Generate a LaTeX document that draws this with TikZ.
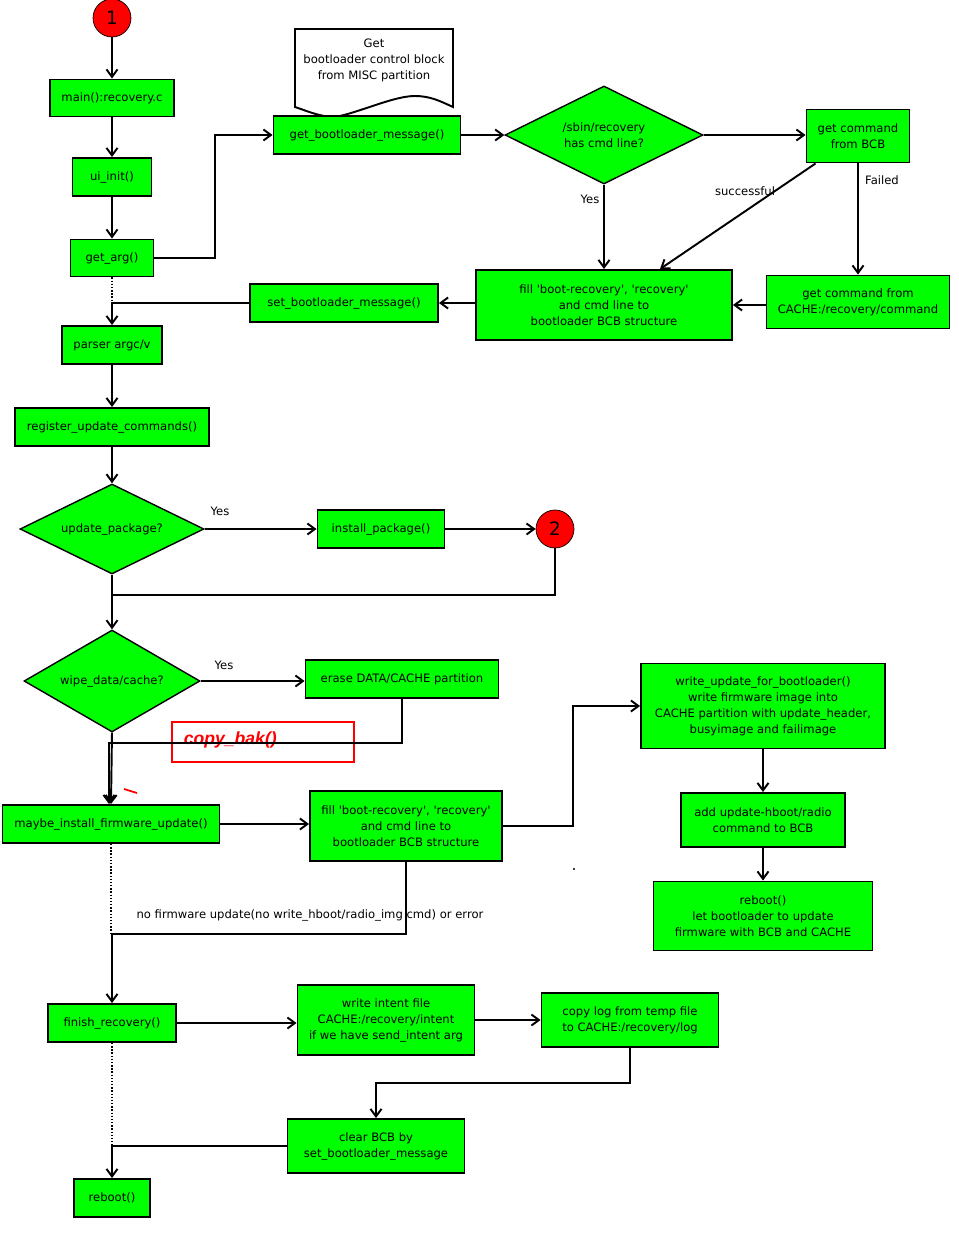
\documentclass[tikz,border=0pt]{standalone}
\usepackage{fontspec}
\setmainfont{DejaVu Sans}
\newfontfamily\arialfont{Liberation Sans}
\usetikzlibrary{shapes.geometric,arrows.meta}
\newcommand{\sq}{\textquotesingle}

\begin{document}
\begin{tikzpicture}[x=0.02cm,y=-0.02cm,line width=1.1pt,
		box/.style={draw,fill=green,align=center,inner sep=1pt,font=\fontsize{6.6}{9.1}\selectfont},
		dec/.style={diamond,aspect=2,draw,fill=green,align=center,inner sep=0pt,line width=0.8pt,font=\fontsize{6.6}{9.1}\selectfont},
		joint/.style={circle,draw,fill=red,inner sep=0pt,minimum size=0.76cm,line width=0.4pt,font=\fontsize{10.5}{12}\selectfont},
		txt/.style={inner sep=0pt,align=center,font=\fontsize{6.6}{9.1}\selectfont},
		arr/.style={-{Straight Barb[length=1.5mm,width=2.2mm]}},
		dots/.style={densely dotted,line width=0.8pt}]
	\useasboundingbox (0,0) rectangle (958,1238);

	\draw[fill=white] (295,107) -- (295,29) -- (453,29) -- (453,107) .. controls (440,101) and (430,96) .. (415,96) .. controls (395,96) and (365,110) .. (340,116) .. controls (325,119) and (310,112) .. (295,107) -- cycle;
	\node[txt] (note) at (374,60) {Get\\bootloader control block\\from MISC partition};

	\node[joint] (c1) at (112,18) {1};
	\node[box,minimum width=2.48cm,minimum height=0.74cm] (main) at (112,98) {main():recovery.c};
	\node[box,minimum width=1.58cm,minimum height=0.76cm] (uiinit) at (112,177) {ui\_init()};
	\node[box,minimum width=1.66cm,minimum height=0.74cm] (getarg) at (112,258) {get\_arg()};
	\node[box,minimum width=3.74cm,minimum height=0.76cm] (getbl) at (367,135) {get\_bootloader\_message()};
	\node[dec,minimum width=3.96cm,minimum height=1.96cm] (sbin) at (604,135) {/sbin/recovery\\has cmd line?};
	\node[box,minimum width=2.06cm,minimum height=1.06cm] (getbcb) at (858,136) {get command\\from BCB};
	\node[box,minimum width=5.12cm,minimum height=1.40cm] (fillbcb) at (604,305) {fill \sq boot-recovery\sq, \sq recovery\sq\\and cmd line to\\bootloader BCB structure};
	\node[box,minimum width=3.66cm,minimum height=1.06cm] (getcache) at (858,302) {get command from\\CACHE:/recovery/command};
	\node[box,minimum width=3.76cm,minimum height=0.76cm] (setbl) at (344,303) {set\_bootloader\_message()};
	\node[box,minimum width=2.00cm,minimum height=0.76cm] (parser) at (112,345) {parser argc/v};
	\node[box,minimum width=3.88cm,minimum height=0.76cm] (register) at (112,427) {register\_update\_commands()};
	\node[dec,minimum width=3.68cm,minimum height=1.80cm] (update) at (112,529) {update\_package?};
	\node[box,minimum width=2.54cm,minimum height=0.76cm] (install) at (381,529) {install\_package()};
	\node[joint] (c2) at (555,529) {2};
	\node[dec,minimum width=3.52cm,minimum height=2.04cm] (wipe) at (112,681) {wipe\_data/cache?};
	\node[box,minimum width=3.86cm,minimum height=0.76cm] (erase) at (402,679) {erase DATA/CACHE partition};
	\node[draw=red,line width=0.9pt,minimum width=3.64cm,minimum height=0.8cm] (bakbox) at (263,742) {};
	\node[anchor=west,inner sep=0pt,text=red,font=\arialfont\bfseries\itshape\fontsize{10}{12}\selectfont] (baktext) at (183,740) {copy\_bak()};
	\node[box,minimum width=4.34cm,minimum height=0.76cm] (maybe) at (111,824) {maybe\_install\_firmware\_update()};
	\node[box,minimum width=3.84cm,minimum height=1.40cm] (fillfw) at (406,826) {fill \sq boot-recovery\sq, \sq recovery\sq\\and cmd line to\\bootloader BCB structure};
	\node[box,minimum width=4.88cm,minimum height=1.70cm] (writeupd) at (763,706) {write\_update\_for\_bootloader()\\write firmware image into\\CACHE partition with update\_header,\\busyimage and failimage};
	\node[box,minimum width=3.28cm,minimum height=1.08cm] (addupd) at (763,820) {add update-hboot/radio\\command to BCB};
	\node[box,minimum width=4.38cm,minimum height=1.38cm] (rebootfw) at (763,916) {reboot()\\let bootloader to update\\firmware with BCB and CACHE};
	\node[box,minimum width=2.56cm,minimum height=0.76cm] (finish) at (112,1023) {finish\_recovery()};
	\node[box,minimum width=3.54cm,minimum height=1.40cm] (intent) at (386,1020) {write intent file\\CACHE:/recovery/intent\\if we have send\_intent arg};
	\node[box,minimum width=3.54cm,minimum height=1.08cm] (copylog) at (630,1020) {copy log from temp file\\to CACHE:/recovery/log};
	\node[box,minimum width=3.54cm,minimum height=1.08cm] (clearbcb) at (376,1146) {clear BCB by\\set\_bootloader\_message};
	\node[box,minimum width=1.52cm,minimum height=0.76cm] (reboot) at (112,1198) {reboot()};

	\node[txt] (yes1) at (590,199) {Yes};
	\node[txt] (succ) at (745,191) {successful};
	\node[txt] (fail) at (882,180) {Failed};
	\node[txt] (yes2) at (220,511) {Yes};
	\node[txt] (yes3) at (224,665) {Yes};
	\node[txt] (nofw) at (310,915) {no firmware update(no write\_hboot/radio\_img cmd) or error};

	\draw[arr] (c1) -- (main);
	\draw[arr] (main) -- (uiinit);
	\draw[arr] (uiinit) -- (getarg);
	\draw[arr] (getarg.east) -- ++(61,0) |- (getbl.west);
	\draw[arr] (getbl.east) -- (sbin.west);
	\draw[arr] (sbin.east) -- (sbin.east -| getbcb.west);
	\draw[arr] (sbin.south) -- (fillbcb.north);
	\draw[arr] ([xshift=0.2cm]getbcb.south west) -- ([xshift=1.12cm]fillbcb.north);
	\draw[arr] (getbcb.south) -- (getcache.north);
	\draw[arr] (getcache.west |- fillbcb) -- (fillbcb.east);
	\draw[arr] (fillbcb.west |- setbl) -- (setbl.east);
	\draw[arr] (setbl.west) -| (parser.north);
	\draw[dots] (getarg.south) -- (getarg.south |- setbl.west);
	\draw[arr] (parser) -- (register);
	\draw[arr] (register) -- (update.north);
	\draw[arr] (update.east) -- (install.west);
	\draw[arr] (install.east) -- (c2.west);
	\draw (c2.south) -- ++(0,47) -| (update.south);
	\draw[arr] (update.south) -- (wipe.north);
	\draw[arr] (wipe.east) -- (wipe.east -| erase.west);
	\draw[arr] (erase.south) -- ++(0,44) -| ([xshift=-0.04cm]maybe.north);
	\draw[arr] (wipe.south) -- (maybe.north);
	\draw[red,line width=1pt] (124,789) -- (137,793);
	\draw[arr] (maybe.east) -- (maybe.east -| fillfw.west);
	\draw[arr] (fillfw.east) -- ++(70,0) |- (writeupd.west);
	\draw[arr] (writeupd) -- (addupd);
	\draw[arr] (addupd) -- (rebootfw);
	\draw[arr] (fillfw.south) -- ++(0,72) -| (finish.north);
	\draw[dots] (maybe.south) -- ++(0,90);
	\fill (574,869) circle (0.6pt);
	\draw[arr] (finish.east) -- (finish.east -| intent.west);
	\draw[arr] (intent.east) -- (copylog.west);
	\draw[arr] (copylog.south) -- ++(0,35) -| (clearbcb.north);
	\draw[arr] (clearbcb.west) -| (reboot.north);
	\draw[dots] (finish.south) -- (finish.south |- clearbcb.west);
\end{tikzpicture}
\end{document}
